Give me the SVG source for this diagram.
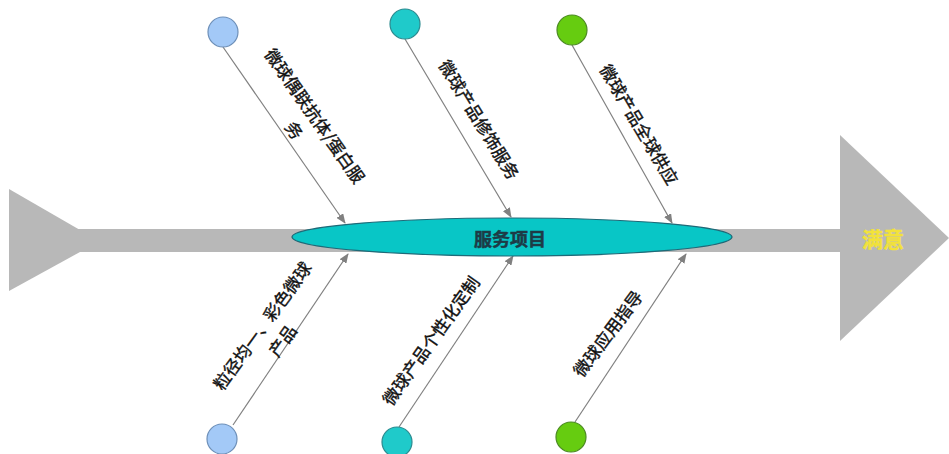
<svg xmlns="http://www.w3.org/2000/svg" width="949" height="454" viewBox="0 0 949 454">
  <style>
    .lbl { font-family: "Noto Sans CJK SC", "Noto Sans", sans-serif; font-size: 17px; fill: #111; stroke: #111; stroke-width: 0.4; dominant-baseline: central; text-anchor: middle; }
    .conn { stroke: #808080; stroke-width: 1.2; fill: none; marker-end: url(#arr); }
    .blue { fill: #a3c9f7; stroke: #6d8fb8; stroke-width: 1.2; }
    .teal { fill: #1fcaca; stroke: #2b8a8f; stroke-width: 1.2; }
    .green { fill: #66cc10; stroke: #4b8a22; stroke-width: 1.2; }
  </style>
  <defs>
    <marker id="arr" markerWidth="10" markerHeight="8" refX="9" refY="4" orient="auto" markerUnits="userSpaceOnUse">
      <path d="M0,0 L10,4 L0,8 Z" fill="#808080"/>
    </marker>
  </defs>
  <rect width="949" height="454" fill="#ffffff"/>

  <g id="spine">
    <polygon points="9,189 80,230 80,252 9,291" fill="#b8b8b8"/>
    <rect x="78" y="229" width="764" height="23" fill="#b8b8b8"/>
    <polygon points="840,135 949,238 840,341" fill="#b8b8b8"/>
  </g>

  <g id="connectors">
    <line class="conn" x1="223" y1="47" x2="345" y2="223"/>
    <line class="conn" x1="405" y1="39" x2="511" y2="217"/>
    <line class="conn" x1="572" y1="45" x2="672" y2="223"/>
    <line class="conn" x1="233" y1="425" x2="348" y2="254"/>
    <line class="conn" x1="399" y1="427" x2="513" y2="256"/>
    <line class="conn" x1="575" y1="422" x2="686" y2="254"/>
  </g>

  <g id="center">
    <ellipse cx="512" cy="237" rx="220" ry="19" fill="#08c6c6" stroke="#1f6a78" stroke-width="1.2"/>
    <text x="510" y="238" font-family="'Noto Sans CJK SC', sans-serif" font-size="18" font-weight="bold" fill="#1d3b46" stroke="#1d3b46" stroke-width="0.5" text-anchor="middle" dominant-baseline="central">服务项目</text>
  </g>

  <g id="goal">
    <text x="883" y="238" font-family="'Noto Sans CJK SC', sans-serif" font-size="21" font-weight="bold" fill="#f2e23a" stroke="#f2e23a" stroke-width="0.5" text-anchor="middle" dominant-baseline="central">满意</text>
  </g>

  <g id="node1">
    <circle class="blue" cx="223" cy="32" r="15"/>
    <text class="lbl" transform="translate(316,115) rotate(55)"><tspan x="0" y="0">微球偶联抗体/蛋白服</tspan><tspan x="0" y="25">务</tspan></text>
  </g>
  <g id="node2">
    <circle class="teal" cx="405" cy="24" r="15"/>
    <text class="lbl" transform="translate(480,119) rotate(58.5)">微球产品修饰服务</text>
  </g>
  <g id="node3">
    <circle class="green" cx="572" cy="30" r="15"/>
    <text class="lbl" transform="translate(640,124) rotate(59.5)">微球产品全球供应</text>
  </g>
  <g id="node4">
    <circle class="blue" cx="222" cy="439" r="15"/>
    <text class="lbl" transform="translate(261,325) rotate(-54)"><tspan x="0" y="0">粒径均一、彩色微球</tspan><tspan x="0" y="25">产品</tspan></text>
  </g>
  <g id="node5">
    <circle class="teal" cx="397" cy="442" r="15"/>
    <text class="lbl" transform="translate(430,340) rotate(-54.5)">微球产品个性化定制</text>
  </g>
  <g id="node6">
    <circle class="green" cx="571" cy="437" r="15"/>
    <text class="lbl" transform="translate(607,333) rotate(-53)">微球应用指导</text>
  </g>
</svg>
